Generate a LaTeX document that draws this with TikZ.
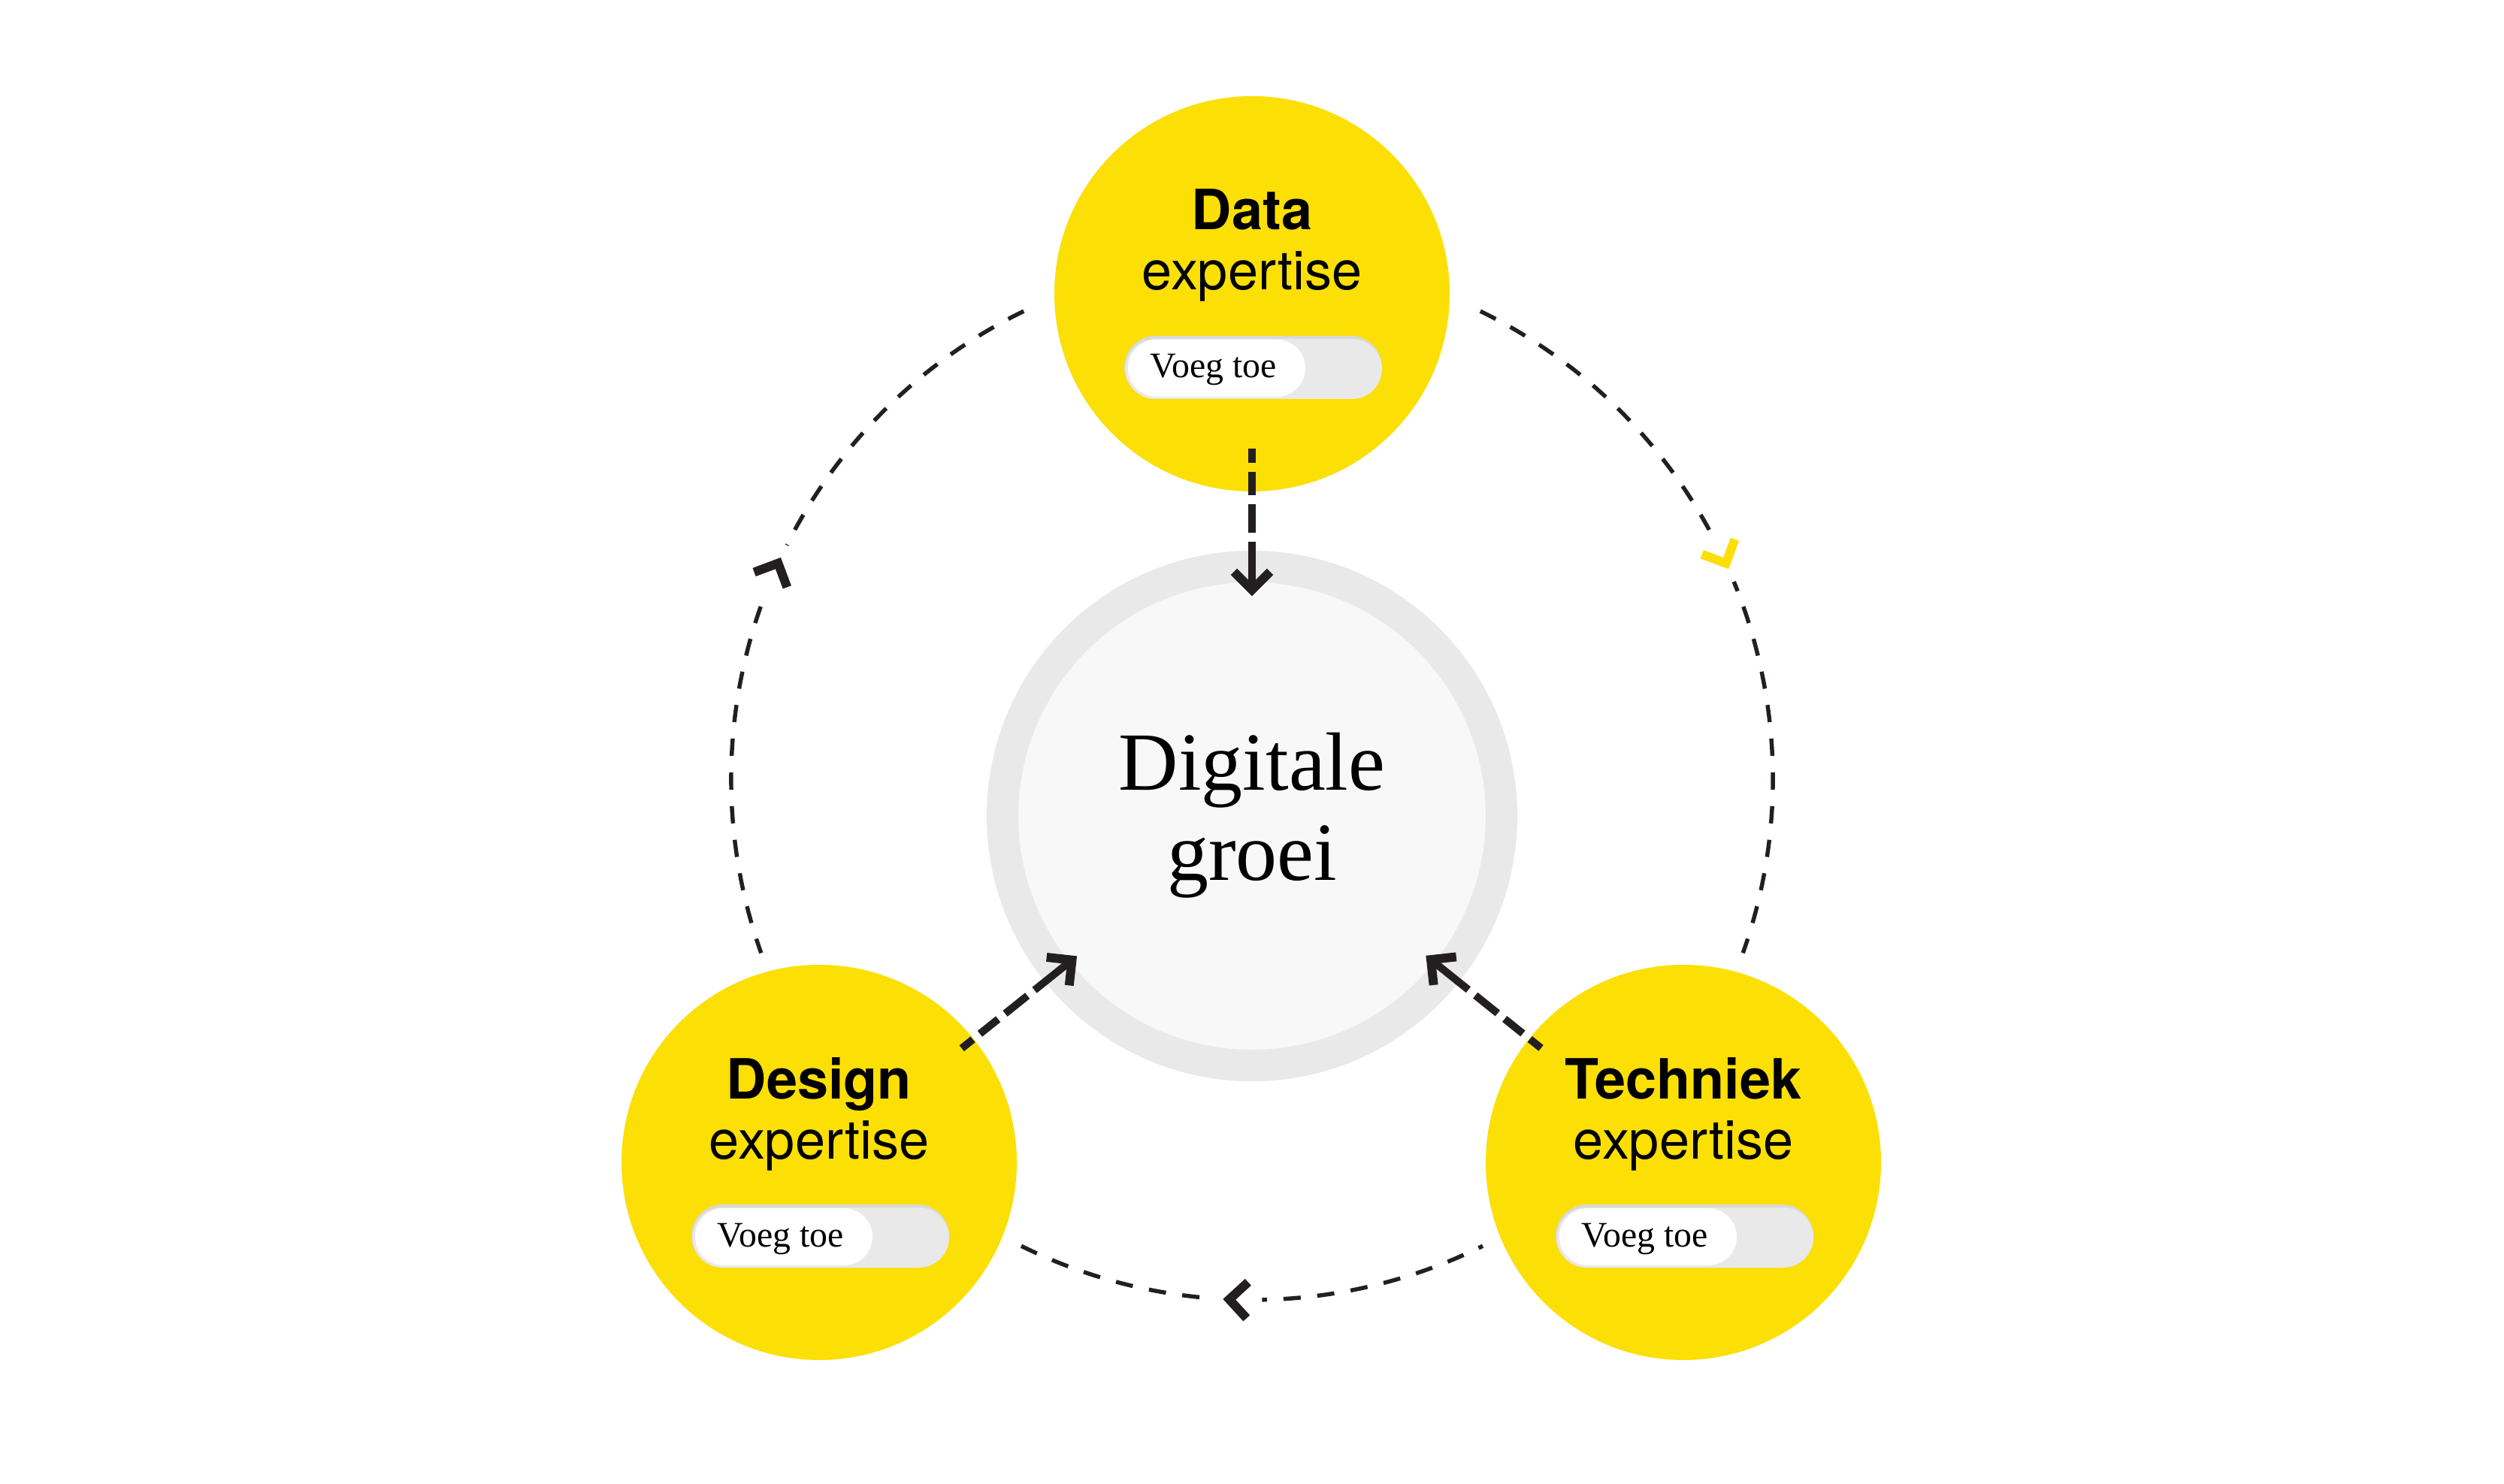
\documentclass[tikz,border=0pt]{standalone}
\usepackage{fontspec}
\setmainfont{Liberation Serif}
\newfontfamily\heros{TeX Gyre Heros}
\usetikzlibrary{calc}
\definecolor{ylw}{RGB}{252,223,5}
\definecolor{ink}{HTML}{231F20}
\definecolor{ringc}{HTML}{E9E9E9}
\definecolor{corec}{HTML}{F8F8F8}
\definecolor{tglbg}{HTML}{E9E9E9}
\definecolor{tgledge}{HTML}{D9D9D9}
\tikzset{
  ycirc/.style={circle, fill=ylw, inner sep=0pt, minimum size=5.26cm},
  hb/.style={font=\heros\bfseries\fontsize{21}{25}\selectfont, inner sep=0pt, text=black, anchor=base},
  hr/.style={font=\heros\fontsize{20.5}{25}\selectfont, inner sep=0pt, text=black, anchor=base},
  tgtxt/.style={font=\fontsize{13.6}{16}\selectfont, inner sep=0pt, text=black, anchor=base west},
  ctxt/.style={font=\fontsize{31.3}{34}\selectfont, inner sep=0pt, text=black, anchor=base},
  cyc/.style={draw=ink, line width=1.55pt, dash pattern=on 0.23cm off 0.22cm},
  blank/.style={draw=white, line width=4pt},
  flow/.style={draw=ink, line width=2.85pt, dash pattern=on 0.19cm off 0.12cm on 0.31cm off 0.12cm on 0.38cm off 0.12cm on 3cm off 0.1cm},
  chevst/.style={draw=ink, line width=3.4pt, line join=miter, line cap=butt},
}
\newcommand\mytoggle[2]{%
  \fill[tgledge, rounded corners=0.419cm] ($(#2)+(-1.70,-1.40)$) rectangle ($(#2)+(1.73,-0.56)$);
  \fill[tglbg, rounded corners=0.40cm] ($(#2)+(-1.685,-1.40)$) rectangle ($(#2)+(1.73,-0.60)$);
  \fill[white, rounded corners=0.379cm] ($(#2)+(-1.65,-1.37)$) rectangle ($(#2)+(0.71,-0.61)$);
  \node[tgtxt] (#1) at ($(#2)+(-1.36,-1.12)$) {Voeg toe};
}
\newcommand\mychev[3][ink]{%
  \draw[chevst, draw=#1] ($(#2)+(#3+135:0.34)$) -- (#2) -- ($(#2)+(#3-135:0.34)$);
}
\newcommand\myblank[2]{%
  \draw[blank] ([shift={(#1:6.93cm)}]C) arc[start angle=#1, end angle=#2, radius=6.93cm];
}
\begin{document}
\begin{tikzpicture}
\useasboundingbox (0,0) rectangle (33.32,19.74);
\fill[white] (0,0) rectangle (33.32,19.74);

% dashed cycle circle
\coordinate (C) at (16.66,9.37);
\draw[cyc] ([shift={(116:6.93cm)}]C) arc[start angle=116, end angle=199.5, radius=6.93cm];
\draw[cyc] ([shift={(64:6.93cm)}]C) arc[start angle=64, end angle=-19.5, radius=6.93cm];
\draw[cyc] ([shift={(243.7:6.93cm)}]C) arc[start angle=243.7, end angle=296.3, radius=6.93cm];
\myblank{153.3}{159.1}
\myblank{22.3}{28.1}
\myblank{265.3}{271.1}

% centre circle
\node[circle, fill=corec, draw=ringc, line width=0.42cm, inner sep=0pt, minimum size=6.64cm] (ctr) at (16.66,8.88) {};
\node[ctxt] (ctrA) at (16.66,9.22) {Digitale};
\node[ctxt] (ctrB) at (16.66,8.02) {groei};

% yellow circles
\node[ycirc] (data) at (16.66,15.83) {};
\node[ycirc] (design) at (10.90,4.27) {};
\node[ycirc] (tech) at (22.40,4.27) {};

\node[hb] (dataA) at ($(data)+(0,0.85)$) {Data};
\node[hr] (dataB) at ($(data)+(0,0.05)$) {expertise};
\node[hb] (designA) at ($(design)+(0,0.85)$) {Design};
\node[hr] (designB) at ($(design)+(0,0.05)$) {expertise};
\node[hb] (techA) at ($(tech)+(0,0.85)$) {Techniek};
\node[hr] (techB) at ($(tech)+(0,0.05)$) {expertise};

\mytoggle{dataT}{data}
\mytoggle{designT}{design}
\mytoggle{techT}{tech}

% arrows into the centre
\coordinate (s1) at ($(data)!2.06cm!(ctr)$);
\coordinate (e1) at ($(s1)!1.88cm!(ctr)$);
\coordinate (s2) at ($(design)!2.43cm!(ctr)$);
\coordinate (e2) at ($(s2)!1.88cm!(ctr)$);
\coordinate (s3) at ($(tech)!2.43cm!(ctr)$);
\coordinate (e3) at ($(s3)!1.88cm!(ctr)$);
\draw[flow] (s1) -- (e1);
\draw[flow] (s2) -- (e2);
\draw[flow] (s3) -- (e3);
\draw[chevst] ($(e1)!0.34cm!45:(s1)$) -- (e1) -- ($(e1)!0.34cm!-45:(s1)$);
\draw[chevst] ($(e2)!0.34cm!45:(s2)$) -- (e2) -- ($(e2)!0.34cm!-45:(s2)$);
\draw[chevst] ($(e3)!0.34cm!45:(s3)$) -- (e3) -- ($(e3)!0.34cm!-45:(s3)$);

% chevrons on the cycle
\coordinate (k1) at ([shift={(155.5:6.93cm)}]C);
\coordinate (k2) at ([shift={(24.5:6.93cm)}]C);
\coordinate (k3) at ([shift={(267.5:6.93cm)}]C);
\mychev{k1}{65.5}
\mychev[ylw]{k2}{-65.5}
\mychev{k3}{177.5}
\end{tikzpicture}
\end{document}
